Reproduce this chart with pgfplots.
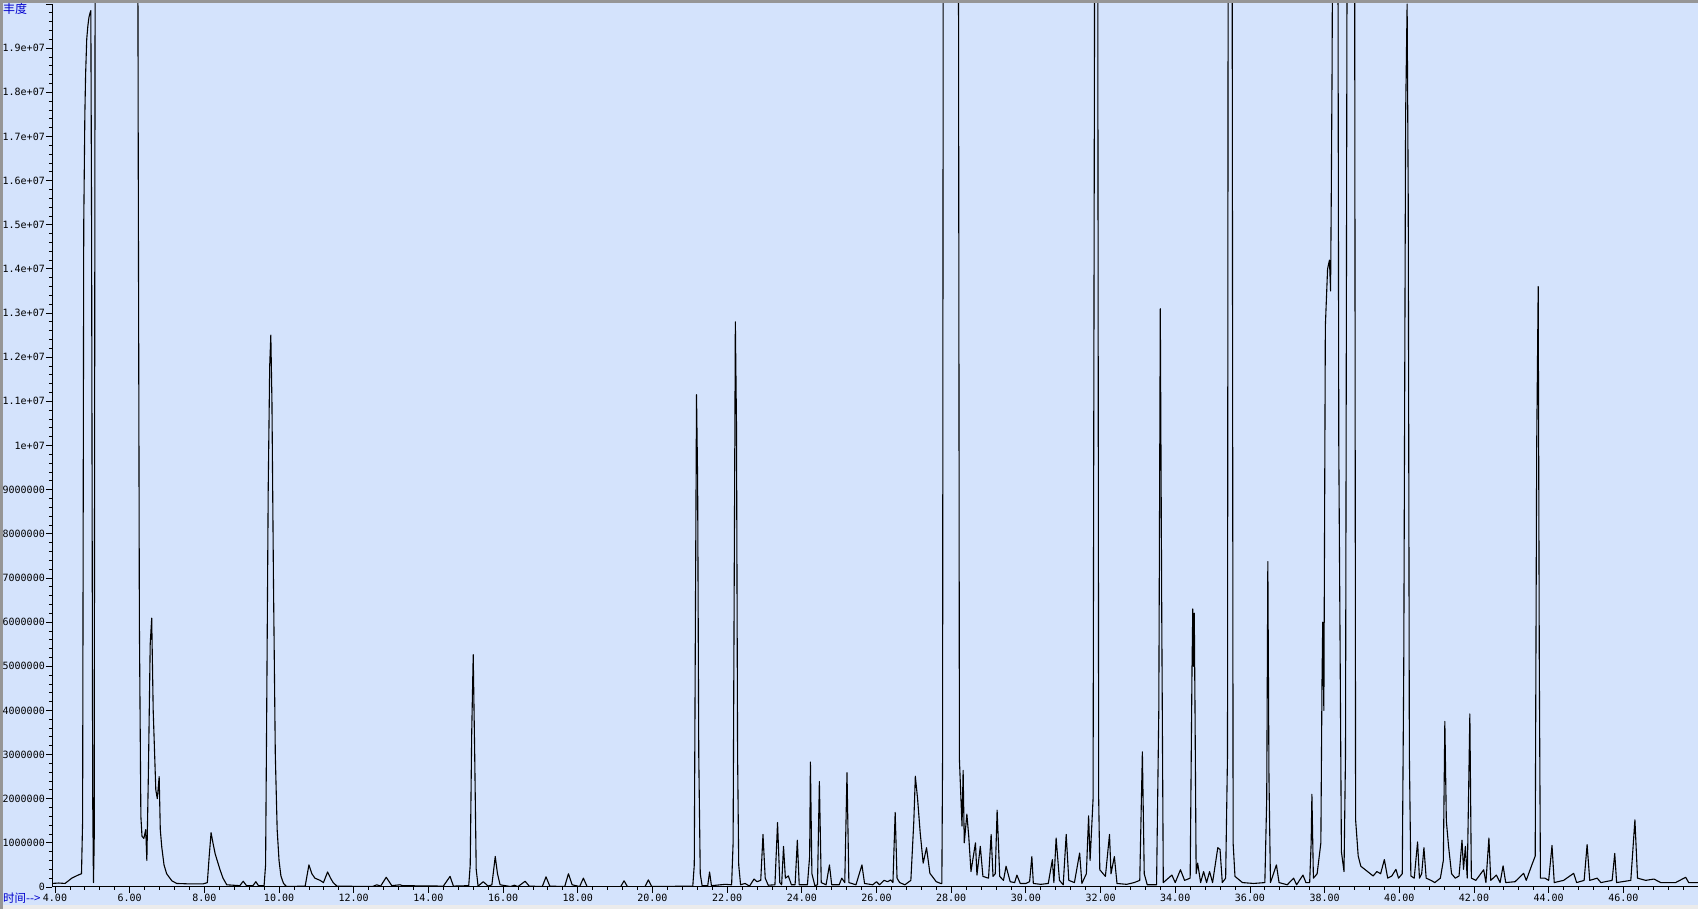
\documentclass[border=0pt]{standalone}
\usepackage{pgfplots}
\pgfplotsset{compat=1.18}
\usepackage{fontspec}
\setmonofont{DejaVu Sans Mono}
\newfontfamily\cjk{Noto Sans CJK SC}
\definecolor{bgblue}{RGB}{212,227,252}
\definecolor{lblblue}{RGB}{0,0,205}
\definecolor{frame}{RGB}{150,150,150}

\begin{document}
\begin{tikzpicture}
% whole picture is 1698 x 909 (1pt = 1px), axis box starts at (52px, 887px from top)
\fill[bgblue] (-52pt,-22pt) rectangle (1646pt,887pt);
\fill[black!8] (-52pt,-22pt) rectangle (1646pt,-18pt);
\fill[frame] (-52pt,-22pt) rectangle (-49pt,887pt);
\fill[frame] (-52pt,884pt) rectangle (1646pt,887pt);

\begin{axis}[
    scale only axis,
    width=1646pt, height=883pt,
    xmin=3.92, xmax=48.0,
    ymin=0, ymax=20,
    axis x line*=bottom, axis y line*=left,
    axis line style={black, line width=1pt},
    xtick={4,6,...,48},
    xticklabels={4.00,6.00,8.00,10.00,12.00,14.00,16.00,18.00,20.00,22.00,24.00,26.00,28.00,30.00,32.00,34.00,36.00,38.00,40.00,42.00,44.00,46.00,{}},
    minor x tick num=4,
    ytick={0,1,...,20},
    yticklabels={0,1000000,2000000,3000000,4000000,5000000,6000000,7000000,8000000,9000000,1e+07,1.1e+07,1.2e+07,1.3e+07,1.4e+07,1.5e+07,1.6e+07,1.7e+07,1.8e+07,1.9e+07,{}},
    minor y tick num=4,
    tick align=outside,
    major tick length=6pt, minor tick length=3pt,
    tick style={black, line width=0.8pt},
    tick label style={font=\ttfamily\fontsize{10}{10}\selectfont, black},
    xticklabel style={inner sep=1pt},
    yticklabel style={inner sep=1pt},
]
\addplot[black, line width=1.1pt, line join=round, mark=none] coordinates {
(3.92,0.08) (4.10,0.09) (4.27,0.08) (4.45,0.20) (4.62,0.27) (4.71,0.30)
(4.74,1.50) (4.77,15.0) (4.80,17.5) (4.82,18.4) (4.85,19.2) (4.88,19.5)
(4.91,19.7) (4.94,19.8) (4.96,19.85) (4.98,15.0) (5.01,2.0) (5.03,0.10)
(5.05,1.0) (5.08,25) (6.21,25) (6.23,16.4) (6.26,6.0) (6.30,1.6)
(6.33,1.15) (6.38,1.10) (6.43,1.30) (6.46,0.60) (6.50,2.5) (6.55,5.5)
(6.59,6.09) (6.63,4.0) (6.70,2.2) (6.74,2.0) (6.79,2.5) (6.82,1.3)
(6.86,0.9) (6.92,0.5) (6.99,0.3) (7.13,0.14) (7.26,0.08) (7.60,0.07)
(7.97,0.07) (8.08,0.10) (8.13,0.7) (8.18,1.23) (8.23,1.0) (8.29,0.75)
(8.42,0.39) (8.50,0.2) (8.60,0.05) (8.95,0.03) (9.04,0.13) (9.13,0.03)
(9.30,0.03) (9.38,0.12) (9.45,0.03) (9.60,0.03) (9.64,0.5) (9.67,4.0)
(9.71,9.0) (9.75,11.8) (9.78,12.5) (9.81,11.0) (9.85,7.0) (9.90,3.0)
(9.95,1.3) (10.00,0.6) (10.05,0.25) (10.12,0.08) (10.20,0.01) (10.70,0.02)
(10.80,0.50) (10.88,0.3) (10.96,0.20) (11.10,0.15) (11.19,0.10) (11.30,0.34)
(11.38,0.2) (11.45,0.10) (11.55,0.02) (12.50,0.01) (12.62,0.05) (12.72,0.02)
(12.87,0.22) (13.02,0.03) (13.24,0.05) (13.31,0.03) (14.40,0.02) (14.58,0.24)
(14.67,0.02) (15.08,0.03) (15.12,0.5) (15.16,3.5) (15.20,5.26) (15.24,3.0)
(15.28,0.4) (15.33,0.02) (15.47,0.12) (15.60,0.02) (15.70,0.05) (15.79,0.69)
(15.85,0.3) (15.92,0.05) (16.20,0.01) (16.30,0.04) (16.40,0.01) (16.59,0.13)
(16.70,0.02) (17.05,0.01) (17.15,0.23) (17.25,0.02) (17.65,0.01) (17.75,0.30)
(17.85,0.05) (18.05,0.01) (18.15,0.20) (18.25,0.01) (19.15,0.01) (19.24,0.14)
(19.33,0.01) (19.80,0.01) (19.89,0.16) (19.98,0.01) (21.08,0.02) (21.12,0.5)
(21.15,6.0) (21.18,11.15) (21.21,9.2) (21.24,3.0) (21.28,0.3) (21.33,0.03)
(21.48,0.03) (21.53,0.34) (21.58,0.03) (21.95,0.06) (22.12,0.05) (22.16,1.0)
(22.19,7.0) (22.22,12.8) (22.25,10.5) (22.28,3.0) (22.31,0.5) (22.36,0.05)
(22.48,0.08) (22.60,0.02) (22.72,0.18) (22.80,0.12) (22.90,0.15) (22.96,1.19)
(23.02,0.2) (23.10,0.04) (23.28,0.05) (23.35,1.46) (23.41,0.1) (23.46,0.05)
(23.51,0.92) (23.56,0.2) (23.64,0.25) (23.72,0.05) (23.82,0.05) (23.88,1.06)
(23.93,0.05) (24.15,0.05) (24.21,0.7) (24.23,2.83) (24.27,0.3) (24.35,0.03)
(24.42,0.05) (24.47,2.39) (24.52,0.1) (24.65,0.05) (24.74,0.5) (24.80,0.05)
(25.00,0.05) (25.07,0.20) (25.15,0.1) (25.21,2.59) (25.26,0.1) (25.45,0.05)
(25.61,0.5) (25.68,0.08) (25.90,0.05) (26.00,0.12) (26.08,0.05) (26.20,0.15)
(26.30,0.12) (26.38,0.16) (26.44,0.1) (26.50,1.69) (26.55,0.2) (26.62,0.1)
(26.76,0.05) (26.92,0.15) (27.00,1.5) (27.04,2.51) (27.10,2.0) (27.17,1.23)
(27.25,0.54) (27.34,0.89) (27.43,0.31) (27.60,0.12) (27.72,0.08) (27.75,0.08)
(27.77,3.0) (27.79,25) (28.19,25) (28.22,2.9) (28.29,1.38) (28.32,2.64)
(28.35,1.0) (28.42,1.65) (28.47,1.15) (28.53,0.35) (28.65,1.0) (28.69,0.27)
(28.78,0.92) (28.85,0.24) (29.00,0.2) (29.07,1.19) (29.12,0.24) (29.18,0.3)
(29.23,1.74) (29.30,0.24) (29.40,0.15) (29.47,0.47) (29.58,0.12) (29.70,0.1)
(29.76,0.27) (29.85,0.08) (30.00,0.08) (30.10,0.12) (30.16,0.69) (30.20,0.08)
(30.40,0.06) (30.60,0.08) (30.71,0.62) (30.75,0.1) (30.81,1.11) (30.90,0.15)
(31.00,0.05) (31.08,1.19) (31.15,0.15) (31.30,0.1) (31.44,0.77) (31.50,0.08)
(31.62,0.3) (31.68,1.61) (31.72,0.6) (31.80,2.0) (31.85,25) (31.92,25)
(31.95,2.0) (31.98,0.39) (32.13,0.24) (32.24,1.19) (32.28,0.3) (32.37,0.69)
(32.44,0.08) (32.70,0.06) (32.90,0.1) (33.05,0.15) (33.12,3.06) (33.17,0.3)
(33.25,0.05) (33.50,0.05) (33.56,4.0) (33.60,13.1) (33.64,6.0) (33.68,0.1)
(33.91,0.27) (34.00,0.1) (34.14,0.39) (34.25,0.15) (34.40,0.2) (34.45,5.0)
(34.47,6.3) (34.49,5.0) (34.51,6.2) (34.53,4.0) (34.56,0.3) (34.60,0.54)
(34.68,0.1) (34.76,0.35) (34.84,0.1) (34.92,0.35) (35.00,0.1) (35.14,0.89)
(35.20,0.85) (35.26,0.1) (35.35,0.2) (35.40,3.0) (35.42,25) (35.52,25)
(35.55,1.0) (35.60,0.24) (35.80,0.1) (36.10,0.08) (36.40,0.1) (36.45,2.0)
(36.48,7.37) (36.51,2.5) (36.55,0.1) (36.71,0.5) (36.78,0.1) (37.00,0.05)
(37.17,0.2) (37.25,0.05) (37.42,0.27) (37.50,0.1) (37.60,0.1) (37.64,1.0)
(37.66,2.1) (37.70,0.2) (37.80,0.3) (37.90,1.0) (37.93,4.6) (37.95,6.0)
(37.98,4.0) (38.02,12.7) (38.08,14.0) (38.13,14.2) (38.16,13.5) (38.18,15.8)
(38.20,18.5) (38.23,25) (38.35,25) (38.38,10.0) (38.45,0.8) (38.52,0.35)
(38.56,3.0) (38.59,16.0) (38.61,25) (38.80,25) (38.83,1.53) (38.90,0.7)
(38.97,0.47) (39.15,0.35) (39.30,0.25) (39.40,0.35) (39.50,0.3) (39.60,0.62)
(39.69,0.2) (39.80,0.25) (39.91,0.4) (39.98,0.2) (40.08,0.3) (40.12,5.0)
(40.17,17.5) (40.21,20.0) (40.24,15.5) (40.27,3.0) (40.31,0.25) (40.40,0.2)
(40.49,1.02) (40.54,0.2) (40.60,0.3) (40.66,0.89) (40.72,0.2) (40.85,0.15)
(40.95,0.1) (41.10,0.2) (41.18,0.6) (41.22,3.75) (41.26,1.5) (41.32,0.92)
(41.40,0.3) (41.50,0.2) (41.60,0.25) (41.68,1.06) (41.72,0.4) (41.77,0.92)
(41.82,0.2) (41.89,3.92) (41.93,0.2) (42.05,0.15) (42.26,0.39) (42.32,0.1)
(42.40,1.11) (42.45,0.15) (42.60,0.27) (42.70,0.1) (42.78,0.48) (42.85,0.1)
(43.10,0.12) (43.33,0.31) (43.40,0.15) (43.55,0.5) (43.64,0.7) (43.68,10.0)
(43.72,13.6) (43.75,5.0) (43.78,0.2) (43.90,0.2) (44.00,0.15) (44.09,0.94)
(44.15,0.1) (44.40,0.15) (44.67,0.31) (44.75,0.1) (44.95,0.15) (45.03,0.96)
(45.10,0.15) (45.30,0.2) (45.40,0.1) (45.70,0.15) (45.77,0.76) (45.82,0.1)
(46.20,0.15) (46.31,1.52) (46.38,0.2) (46.60,0.15) (46.82,0.18) (47.00,0.1)
(47.40,0.1) (47.67,0.22) (47.75,0.1) (48.00,0.1)
};
\end{axis}

\node[anchor=west, inner sep=0pt, text=lblblue, font=\cjk\fontsize{12}{12}\selectfont] at (-49pt,878pt) {丰度};
\node[anchor=west, inner sep=0pt, text=lblblue, font=\cjk\fontsize{11.5}{12}\selectfont] at (-49pt,-11pt) {时间-->};

\pgfresetboundingbox
\useasboundingbox (-52pt,-22pt) rectangle (1646pt,887pt);
\end{tikzpicture}
\end{document}
